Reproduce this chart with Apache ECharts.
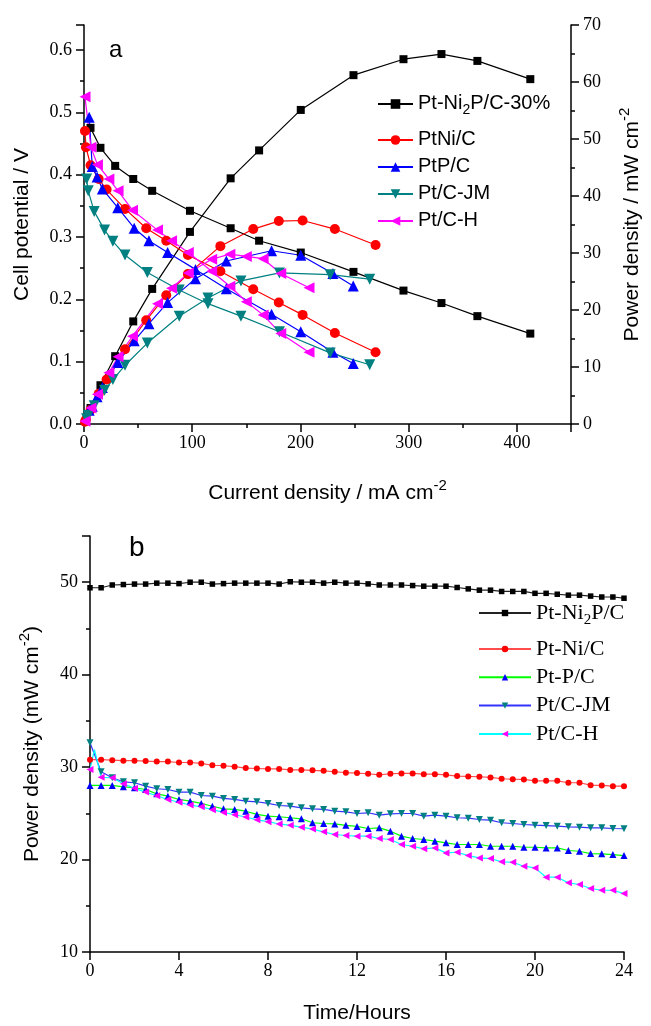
<!DOCTYPE html>
<html><head><meta charset="utf-8">
<script src="https://cdn.jsdelivr.net/npm/echarts@6/dist/echarts.min.js"></script>
<style>html,body{margin:0;padding:0;background:#fff}#c{width:651px;height:1026px}</style>
</head><body><div id="c"></div>
<script>
// ---------- Panel a: polarization & power density ----------
const curNi2P = [6, 15.2, 28.8, 45.5, 63, 97.9, 135.5, 161.8, 200.3, 249, 295.2, 330.3, 363.5, 412.4];
const vNi2P   = [0.475, 0.443, 0.414, 0.393, 0.374, 0.342, 0.314, 0.294, 0.275, 0.244, 0.214, 0.194, 0.173, 0.145];
const pNi2P   = [2.8, 6.8, 11.9, 18.0, 23.7, 33.7, 43.1, 48.0, 55.1, 61.2, 64.0, 64.9, 63.7, 60.5];

const curPtNi = [0.9, 1.8, 6.1, 13.6, 20.9, 37.9, 57.5, 76, 96, 126, 156.4, 180, 202, 231.8, 269.4];
const vPtNi   = [0.470, 0.444, 0.415, 0.393, 0.376, 0.345, 0.314, 0.294, 0.271, 0.245, 0.216, 0.195, 0.175, 0.146, 0.115];
const pPtNi   = [0.4, 0.8, 2.5, 5.3, 7.8, 13.1, 18.2, 22.6, 26.3, 31.2, 34.2, 35.6, 35.7, 34.2, 31.4];

const curPtP  = [4.8, 7.6, 12.1, 17, 31.2, 46.4, 60, 77.3, 103, 131.5, 173.3, 200.3, 230, 248.8];
const vPtP    = [0.492, 0.413, 0.396, 0.377, 0.347, 0.314, 0.294, 0.275, 0.248, 0.217, 0.176, 0.148, 0.115, 0.097];
const pPtP    = [2.4, 3.1, 4.8, 6.4, 10.8, 14.6, 17.6, 21.3, 25.5, 28.6, 30.4, 29.6, 26.4, 24.2];

const curJM   = [2.4, 3.9, 9.4, 19, 26.7, 37.9, 58.5, 88, 114.5, 145, 180.6, 227.5, 264];
const vJM     = [0.393, 0.374, 0.341, 0.311, 0.293, 0.271, 0.243, 0.215, 0.193, 0.173, 0.148, 0.114, 0.095];
const pJM     = [0.9, 1.5, 3.2, 5.9, 7.8, 10.3, 14.2, 18.9, 22.1, 25.1, 26.5, 26.2, 25.4];

const curH    = [0.9, 6.4, 12.4, 23, 31.5, 44.8, 67.9, 80.9, 96.4, 118, 134.8, 150, 165.5, 181.8, 207.9];
const vH      = [0.525, 0.444, 0.416, 0.393, 0.374, 0.343, 0.311, 0.294, 0.275, 0.245, 0.221, 0.196, 0.175, 0.145, 0.115];
const pH      = [0.5, 2.8, 5.2, 9.0, 11.8, 15.4, 21.1, 23.8, 26.5, 28.9, 29.8, 29.4, 29.0, 26.4, 23.9];

const namesA = ['Pt-Ni2P/C-30%', 'PtNi/C', 'PtP/C', 'Pt/C-JM', 'Pt/C-H'];

// ---------- Panel b: stability over time ----------
const hours = [0,0.5,1,1.5,2,2.5,3,3.5,4,4.5,5,5.5,6,6.5,7,7.5,8,8.5,9,9.5,10,10.5,11,11.5,12,
               12.5,13,13.5,14,14.5,15,15.5,16,16.5,17,17.5,18,18.5,19,19.5,20,20.5,21,21.5,22,22.5,23,23.5,24];
const bNi2P = [49.4,49.4,49.7,49.75,49.8,49.8,49.9,49.9,49.85,50.0,50.0,49.8,49.85,49.9,49.9,49.9,49.9,49.8,50.05,50.0,50.0,49.9,50.0,49.9,49.9,
               49.82,49.7,49.7,49.7,49.64,49.57,49.57,49.57,49.43,49.28,49.14,49.14,49.0,49.0,49.0,48.8,48.8,48.7,48.6,48.6,48.5,48.4,48.4,48.27];
const bPtNi = [30.8,30.8,30.75,30.7,30.7,30.65,30.6,30.6,30.5,30.5,30.4,30.2,30.15,30.05,29.9,29.85,29.8,29.8,29.7,29.7,29.65,29.6,29.5,29.4,29.35,
               29.28,29.17,29.28,29.32,29.32,29.24,29.24,29.17,29.03,28.99,28.96,28.88,28.74,28.7,28.67,28.52,28.52,28.52,28.31,28.31,28.05,28.02,27.94,27.94];
const bPtP  = [28.02,28.02,28.02,27.87,27.77,27.58,27.11,26.86,26.5,26.32,26.07,25.77,25.49,25.42,25.23,24.88,24.69,24.63,24.52,24.41,23.98,23.9,23.85,23.7,23.58,
               23.36,23.43,23.07,22.53,22.28,22.17,21.99,21.81,21.63,21.63,21.63,21.44,21.44,21.44,21.33,21.33,21.26,21.26,20.98,20.9,20.65,20.62,20.54,20.43];
const bJM   = [32.64,29.5,28.85,28.41,28.31,27.94,27.66,27.58,27.29,27.29,26.93,26.86,26.61,26.5,26.32,26.25,26.07,25.85,25.77,25.6,25.49,25.42,25.23,25.16,24.98,
               25.06,24.8,24.95,24.98,24.98,24.69,24.8,24.69,24.52,24.48,24.33,24.26,23.98,23.9,23.79,23.72,23.68,23.61,23.54,23.5,23.43,23.43,23.36,23.33];
const bH    = [29.75,28.9,28.85,28.2,27.7,27.3,26.9,26.5,26.2,25.9,25.7,25.4,25.1,24.85,24.6,24.3,24.1,23.85,23.7,23.5,23.3,23.0,22.71,22.6,22.53,
               22.53,22.28,22.17,21.63,21.44,21.16,21.26,20.72,20.79,20.43,20.18,20.11,19.75,19.71,19.28,19.1,18.09,18.09,17.48,17.3,16.87,16.68,16.68,16.32];
const bHSpikeT = [0.2];   // unmarked spike in the Pt/C-H trace
const bHSpikeV = [31.9];

const namesB = ['Pt-Ni2P/C', 'Pt-Ni/C', 'Pt-P/C', 'Pt/C-JM ', 'Pt/C-H '];

// ---------- build ----------
function pairs(xs, ys) { return xs.map((x, i) => [x, ys[i]]); }

const SERIF = '"Liberation Serif","Times New Roman",serif';
const SANS = '"Liberation Sans",Arial,sans-serif';

const styA = [
  {c: '#000000', sym: 'rect', sz: 8, rot: 0},
  {c: '#ff0000', sym: 'circle', sz: 10, rot: 0},
  {c: '#0000ff', sym: 'triangle', sz: 11, rot: 0},
  {c: '#008080', sym: 'triangle', sz: 11, rot: 180},
  {c: '#ff00ff', sym: 'triangle', sz: 11, rot: 90}
];
const dataA = [
  [curNi2P, vNi2P, pNi2P], [curPtNi, vPtNi, pPtNi], [curPtP, vPtP, pPtP], [curJM, vJM, pJM], [curH, vH, pH]
];
const series = [];
dataA.forEach((d, i) => {
  const s = styA[i];
  [[d[1], 0], [d[2], 1]].forEach(([ys, yi]) => {
    series.push({
      name: namesA[i], type: 'line', xAxisIndex: 0, yAxisIndex: yi,
      data: pairs(d[0], ys), symbol: s.sym, symbolSize: s.sz, symbolRotate: s.rot,
      itemStyle: {color: s.c}, lineStyle: {color: s.c, width: 1.2}, animation: false, z: 3
    });
  });
});

const styB = [
  {line: '#222222', c: '#000000', sym: 'rect', sz: 5.5, rot: 0},
  {line: '#ff4d4d', c: '#ff0000', sym: 'circle', sz: 6, rot: 0},
  {line: '#00ff00', c: '#0000ff', sym: 'triangle', sz: 7, rot: 0},
  {line: '#3333ff', c: '#008080', sym: 'triangle', sz: 7, rot: 180},
  {line: '#00ffff', c: '#ff00ff', sym: 'triangle', sz: 7, rot: 90}
];
const dataB = [bNi2P, bPtNi, bPtP, bJM, bH];
dataB.forEach((vals, i) => {
  const s = styB[i];
  let d = pairs(hours, vals);
  if (i === 4) {
    bHSpikeT.forEach((t, k) => d.push({value: [t, bHSpikeV[k]], symbol: 'none'}));
    d.sort((a, b) => (a.value || a)[0] - (b.value || b)[0]);
  }
  series.push({
    name: namesB[i], type: 'line', xAxisIndex: 1, yAxisIndex: 2, data: d,
    symbol: s.sym, symbolSize: s.sz, symbolRotate: s.rot,
    itemStyle: {color: s.c}, lineStyle: {color: s.line, width: 1.2}, animation: false, z: 3
  });
});

const axisLineStyle = {show: true, lineStyle: {color: '#000', width: 1.5}};
const tickStyle = {show: true, inside: false, length: 8, lineStyle: {color: '#000', width: 1.5}};
const minorStyle = {show: true, splitNumber: 2, length: 4, lineStyle: {color: '#000', width: 1.5}};

const legendRichA = {
  n: {fontFamily: SANS, fontSize: 20, color: '#000', verticalAlign: 'top', lineHeight: 22},
  s: {fontFamily: SANS, fontSize: 14, color: '#000', verticalAlign: 'top', padding: [10, 0, 0, 0], lineHeight: 14}
};
const legendRichB = {
  n: {fontFamily: SERIF, fontSize: 22, color: '#000', verticalAlign: 'top', lineHeight: 22},
  s: {fontFamily: SERIF, fontSize: 15, color: '#000', verticalAlign: 'top', padding: [11, 0, 0, 0], lineHeight: 15}
};
const supRich = (fs) => ({
  t: {fontFamily: SANS, fontSize: fs, color: '#000', verticalAlign: 'bottom'},
  sup: {fontFamily: SANS, fontSize: Math.round(fs * 0.7), color: '#000', verticalAlign: 'bottom', padding: [0, 0, Math.round(fs * 0.5), 0]}
});

const option = {
  backgroundColor: '#fff',
  animation: false,
  grid: [
    {left: 84, right: 73, top: 25, height: 399},
    {left: 90, right: 27, top: 536, height: 416}
  ],
  xAxis: [
    {type: 'value', gridIndex: 0, min: 0, max: 450, interval: 100,
     name: '{t|Current density / mA cm}{sup|-2}', nameLocation: 'middle', nameGap: 54,
     nameTextStyle: {rich: supRich(21)},
     axisLine: axisLineStyle, axisTick: tickStyle, minorTick: minorStyle, splitLine: {show: false},
     axisLabel: {fontFamily: SERIF, fontSize: 18, color: '#000', margin: 10, showMaxLabel: false}},
    {type: 'value', gridIndex: 1, min: 0, max: 24, interval: 4,
     name: 'Time/Hours', nameLocation: 'middle', nameGap: 51,
     nameTextStyle: {fontFamily: SANS, fontSize: 21, color: '#000'},
     axisLine: axisLineStyle, axisTick: tickStyle, minorTick: {show: false}, splitLine: {show: false},
     axisLabel: {fontFamily: SERIF, fontSize: 18, color: '#000', margin: 10}}
  ],
  yAxis: [
    {type: 'value', gridIndex: 0, min: 0, max: 0.64, interval: 0.1, position: 'left',
     name: 'Cell potential / V', nameLocation: 'middle', nameGap: 51,
     nameTextStyle: {fontFamily: SANS, fontSize: 21, color: '#000'},
     axisLine: axisLineStyle, axisTick: tickStyle, minorTick: minorStyle, splitLine: {show: false},
     axisLabel: {fontFamily: SERIF, fontSize: 18, color: '#000', margin: 12, showMaxLabel: false,
                 formatter: v => v.toFixed(1)}},
    {type: 'value', gridIndex: 0, min: 0, max: 70, interval: 10, position: 'right',
     name: '{t|Power density / mW cm}{sup|-2}', nameLocation: 'middle', nameGap: 46,
     nameTextStyle: {rich: supRich(21)},
     axisLine: axisLineStyle, axisTick: tickStyle, minorTick: minorStyle, splitLine: {show: false},
     axisLabel: {fontFamily: SERIF, fontSize: 18, color: '#000', margin: 12}},
    {type: 'value', gridIndex: 1, min: 10, max: 55, interval: 10,
     name: '{t|Power density (mW cm}{sup|-2}{t|)}', nameLocation: 'middle', nameGap: 47,
     nameTextStyle: {rich: supRich(21)},
     axisLine: axisLineStyle, axisTick: tickStyle, minorTick: minorStyle, splitLine: {show: false},
     axisLabel: {fontFamily: SERIF, fontSize: 18, color: '#000', margin: 12, showMaxLabel: false}}
  ],
  legend: [
    {data: [namesA[0]], orient: 'vertical', left: 372, top: 88, itemWidth: 35, itemHeight: 12,
     formatter: () => '{n|Pt-Ni}{s|2}{n|P/C-30%}', textStyle: {rich: legendRichA}, selectedMode: false},
    {data: namesA.slice(1), orient: 'vertical', left: 372, top: 124, itemWidth: 35, itemHeight: 12, itemGap: 7,
     formatter: n => '{n|' + n + '}', textStyle: {rich: legendRichA}, selectedMode: false},
    {data: [namesB[0]], orient: 'vertical', left: 473, top: 597, itemWidth: 52, itemHeight: 8,
     formatter: () => '{n|Pt-Ni}{s|2}{n|P/C}', textStyle: {rich: legendRichB}, selectedMode: false},
    {data: namesB.slice(1), orient: 'vertical', left: 473, top: 633, itemWidth: 52, itemHeight: 8, itemGap: 6.3,
     formatter: n => '{n|' + n.trim() + '}', textStyle: {rich: legendRichB}, selectedMode: false}
  ],
  graphic: [
    {type: 'text', left: 109, top: 38, style: {text: 'a', font: '24px ' + SANS, fill: '#000'}},
    {type: 'text', left: 129, top: 534, style: {text: 'b', font: '28px ' + SANS, fill: '#000'}}
  ],
  series: series
};

const chart = echarts.init(document.getElementById('c'), null, {renderer: 'canvas'});
chart.setOption(option);
</script></body></html>
